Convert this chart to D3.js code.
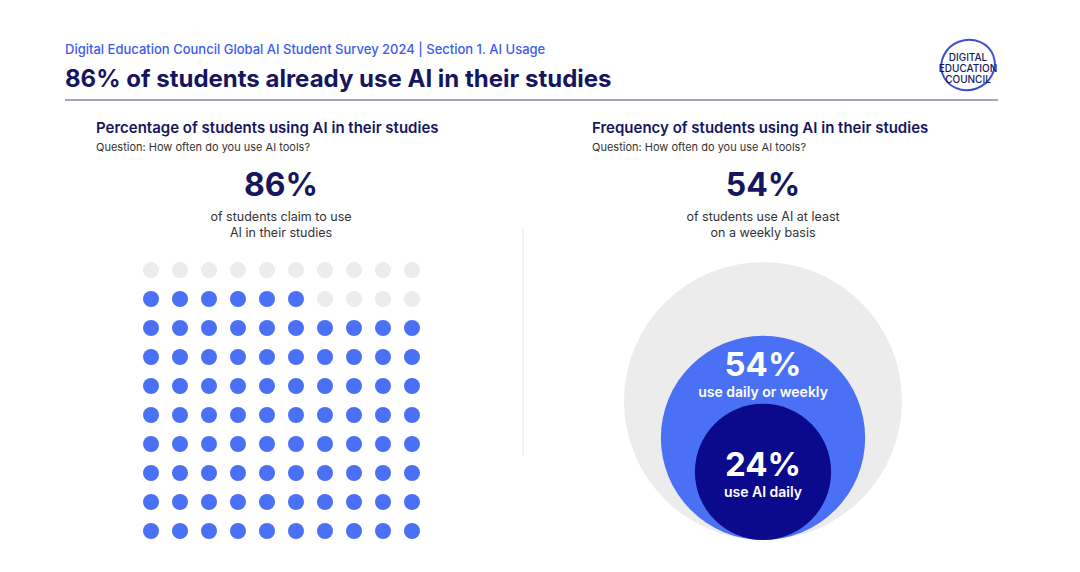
<!DOCTYPE html>
<html><head><meta charset="utf-8">
<script src="https://cdn.jsdelivr.net/npm/d3@7"></script>
<style>body{margin:0;background:#fff;font-family:Inter,"Open Sans",sans-serif}</style>
</head><body><svg id="c" width="1080" height="572"></svg>
<script>
const usersPct = 86;
const dotCount = 100;
const freqLabels = ["of students", "use daily or weekly", "use AI daily"];
const freqValues = [100, 54, 24];

const svg = d3.select("#c");
const navy = "#16165e", blue = "#4a70f5", dark = "#0c0a8c", gray = "#ececec";

svg.append("text").attr("x",65).attr("y",54).attr("fill","#3b5cf0").attr("font-size",13).attr("font-weight",500)
  .text("Digital Education Council Global AI Student Survey 2024 | Section 1. AI Usage");
svg.append("text").attr("x",65).attr("y",87).attr("fill",navy).attr("font-size",24).attr("font-weight",650)
  .text("86% of students already use AI in their studies");
svg.append("line").attr("x1",65).attr("x2",998).attr("y1",100).attr("y2",100).attr("stroke","#4a4a80").attr("stroke-width",1.2);

const lg = svg.append("g").attr("transform","translate(968,65)");
lg.append("ellipse").attr("rx",27).attr("ry",25).attr("fill","none").attr("stroke","#3d4fd0").attr("stroke-width",2).attr("transform","rotate(-20)");
["DIGITAL","EDUCATION","COUNCIL"].forEach((t,i)=>lg.append("text").attr("y",-8+i*11+4).attr("text-anchor","middle")
  .attr("font-size",10).attr("font-weight",500).attr("fill",navy).text(t));

svg.append("text").attr("x",96).attr("y",133).attr("fill",navy).attr("font-size",15).attr("font-weight",600).text("Percentage of students using AI in their studies");
svg.append("text").attr("x",96).attr("y",151).attr("fill","#333").attr("font-size",11).text("Question: How often do you use AI tools?");
svg.append("text").attr("x",281).attr("y",196).attr("text-anchor","middle").attr("fill",navy).attr("font-size",32).attr("font-weight",700).text(usersPct+"%");
svg.append("text").attr("x",281).attr("y",221).attr("text-anchor","middle").attr("fill","#333").attr("font-size",12.5).text("of students claim to use");
svg.append("text").attr("x",281).attr("y",237).attr("text-anchor","middle").attr("fill","#333").attr("font-size",12.5).text("AI in their studies");

const cols = d3.range(10), rows = d3.range(10);
const x = d3.scalePoint().domain(cols).range([151,412]);
const y = d3.scalePoint().domain(rows).range([270,531]);
const dots = d3.range(dotCount).map(i=>({c:i%10,r:Math.floor(i/10)}));
svg.append("g").selectAll("circle").data(dots).join("circle")
  .attr("cx",d=>x(d.c)).attr("cy",d=>y(d.r)).attr("r",8)
  .attr("fill",d=>{const filled = d.r>=2 || (d.r===1 && d.c < usersPct-80); return filled?blue:gray;});

svg.append("line").attr("x1",523).attr("x2",523).attr("y1",228).attr("y2",455).attr("stroke","#e6e6e6");

svg.append("text").attr("x",592).attr("y",133).attr("fill",navy).attr("font-size",15).attr("font-weight",600).text("Frequency of students using AI in their studies");
svg.append("text").attr("x",592).attr("y",151).attr("fill","#333").attr("font-size",11).text("Question: How often do you use AI tools?");
svg.append("text").attr("x",763).attr("y",196).attr("text-anchor","middle").attr("fill",navy).attr("font-size",32).attr("font-weight",700).text(freqValues[1]+"%");
svg.append("text").attr("x",763).attr("y",221).attr("text-anchor","middle").attr("fill","#333").attr("font-size",12.5).text("of students use AI at least");
svg.append("text").attr("x",763).attr("y",237).attr("text-anchor","middle").attr("fill","#333").attr("font-size",12.5).text("on a weekly basis");

const rs = d3.scaleSqrt().domain([0,100]).range([0,139]);
const bottom = 540, cx = 763, fills = [gray, blue, dark];
freqValues.forEach((v,i)=>{
  svg.append("circle").attr("cx",cx).attr("cy",bottom-rs(v)).attr("r",rs(v)).attr("fill",fills[i]);
});
[[1,376,397],[2,476,497]].forEach(([i,y1,y2])=>{
  svg.append("text").attr("x",cx).attr("y",y1).attr("text-anchor","middle").attr("fill","#fff").attr("font-size",33).attr("font-weight",700).text(freqValues[i]+"%");
  svg.append("text").attr("x",cx).attr("y",y2).attr("text-anchor","middle").attr("fill","#fff").attr("font-size",14).attr("font-weight",600).text(freqLabels[i]);
});
</script></body></html>
